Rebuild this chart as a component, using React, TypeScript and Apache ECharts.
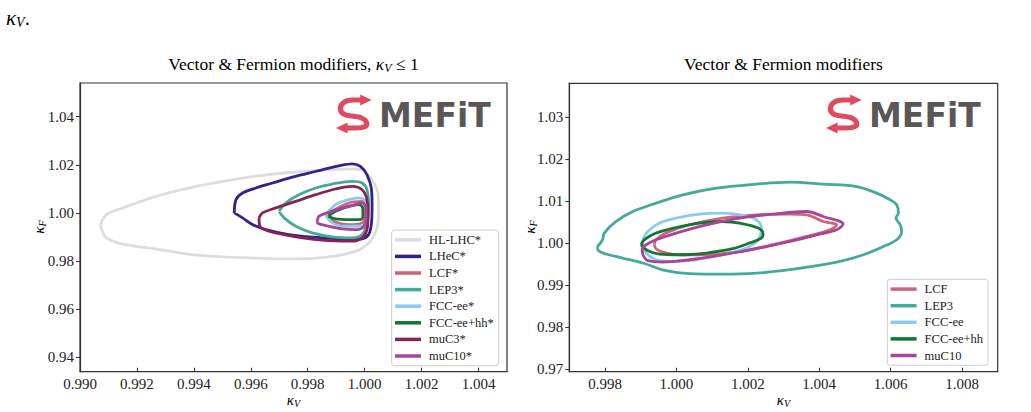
import React, { useEffect, useRef } from 'react';
import * as echarts from 'echarts';

// ---------- data (kappa_V, kappa_F) ----------
const leftNames = ['HL-LHC*', 'LHeC*', 'LCF*', 'LEP3*', 'FCC-ee*', 'FCC-ee+hh*', 'muC3*', 'muC10*'];
const rightNames = ['LCF', 'LEP3', 'FCC-ee', 'FCC-ee+hh', 'muC10'];

const hlLhcL = [
  [0.99072, 0.9952], [0.99093, 0.9993], [0.99151, 1.0021], [0.99268, 1.0069], [0.99385, 1.0104],
  [0.99501, 1.0131], [0.99618, 1.0153], [0.99734, 1.0168], [0.99851, 1.0177], [0.99956, 1.0183],
  [1.00003, 1.017], [1.00038, 1.0112], [1.00049, 1.0055], [1.00049, 0.9986], [1.00038, 0.9917],
  [1.00014, 0.9875], [0.99968, 0.984], [0.99851, 0.9814], [0.99734, 0.9809], [0.99618, 0.9812],
  [0.99501, 0.9817], [0.99385, 0.9828], [0.99268, 0.985], [0.99151, 0.987], [0.99093, 0.9896],
  [0.99076, 0.9931],
];
const lhecL = [
  [0.99542, 1.0], [0.99548, 1.00551], [0.99571, 1.00828], [0.99618, 1.01035], [0.99676, 1.01242],
  [0.99734, 1.01449], [0.99793, 1.01627], [0.99851, 1.01793], [0.99909, 1.01959], [0.99956, 1.02042],
  [0.99985, 1.0193], [1.00008, 1.01586], [1.00024, 1.00965], [1.00026, 1.00273], [1.00024, 0.99586],
  [1.00014, 0.99101], [0.99991, 0.98923], [0.99956, 0.98894], [0.99851, 0.98965], [0.99734, 0.99101],
  [0.99653, 0.99308], [0.99606, 0.99516], [0.99571, 0.99793],
];
const lcfL = [
  [0.99874, 1.0], [0.99944, 1.00414], [0.99991, 1.0048], [1.00003, 1.0], [0.99991, 0.99586],
  [0.99944, 0.99516], [0.99892, 0.99652],
];
const lep3L = [
  [0.99699, 1.00066], [0.99723, 1.00414], [0.99769, 1.00758], [0.99828, 1.01035], [0.99886, 1.01201],
  [0.99956, 1.01309], [0.99991, 1.01242], [1.00008, 1.00965], [1.00014, 1.00273], [1.00008, 0.99586],
  [0.99991, 0.99101], [0.99956, 0.98965], [0.99886, 0.99006], [0.99816, 0.99172], [0.99758, 0.99445],
  [0.99717, 0.99793],
];
const fccL = [
  [0.99863, 0.9993], [0.99898, 1.00344], [0.99944, 1.00551], [0.99979, 1.00621], [1.00003, 1.0048],
  [1.00008, 1.0], [1.00003, 0.99586], [0.99979, 0.99445], [0.99933, 0.99445], [0.99886, 0.99586],
];
const fccHhL = [
  [0.99872, 0.99859], [0.99898, 1.00066], [0.99944, 1.00273], [0.99979, 1.00344], [0.99993, 1.00207],
  [0.99994, 0.99859], [0.99985, 0.99723], [0.99944, 0.99723], [0.99898, 0.99752],
];
const muc3L = [
  [0.99629, 0.99793], [0.99641, 1.0], [0.99688, 1.00207], [0.99758, 1.0048], [0.99828, 1.00758],
  [0.99898, 1.00994], [0.99956, 1.01102], [0.99991, 1.00965], [1.00008, 1.00551], [1.00012, 0.99859],
  [1.00008, 0.99308], [0.99991, 0.98965], [0.99956, 0.98824], [0.99851, 0.98865], [0.99734, 0.9906],
  [0.99664, 0.99238], [0.99632, 0.99445],
];
const muc10L = [
  [0.99833, 0.99652], [0.99839, 0.99859], [0.99868, 1.0], [0.99921, 1.00207], [0.99968, 1.00344],
  [0.99991, 1.00414], [1.00005, 1.00207], [1.00005, 0.99793], [0.99997, 0.99445], [0.99973, 0.99308],
  [0.99921, 0.99337], [0.99863, 0.99474], [0.99837, 0.99557],
];

const lcfR = [
  [0.99938, 0.9996], [0.99943, 1.00078], [0.99971, 1.00238], [1.00037, 1.00435], [1.0013, 1.00594],
  [1.00224, 1.00672], [1.00318, 1.00689], [1.00365, 1.00672], [1.00411, 1.00513], [1.00449, 1.00435],
  [1.0043, 1.00316], [1.00365, 1.00157], [1.00271, 0.9996], [1.00177, 0.998], [1.00084, 0.99722],
  [1.00009, 0.99722], [0.99962, 0.99786], [0.99943, 0.99865],
];
const lep3R = [
  [0.99779, 0.99919], [0.99793, 1.00078], [0.99798, 1.00238], [0.99831, 1.00513], [0.99878, 1.0075],
  [0.99943, 1.0095], [1.00018, 1.01147], [1.00112, 1.01306], [1.00224, 1.01401], [1.00318, 1.01449],
  [1.00411, 1.01401], [1.00505, 1.01344], [1.00561, 1.01188], [1.00599, 1.01028], [1.00617, 1.0091],
  [1.00622, 1.00713], [1.00615, 1.00594], [1.00627, 1.00435], [1.00631, 1.00276], [1.00617, 1.00078],
  [1.0058, 0.99919], [1.00524, 0.99722], [1.00467, 0.9958], [1.00411, 0.99485], [1.00318, 0.99366],
  [1.00224, 0.99283], [1.0013, 0.99259], [1.00037, 0.99271], [0.99971, 0.99342], [0.99906, 0.99525],
  [0.99849, 0.99644], [0.99803, 0.99739], [0.99782, 0.99817],
];
const fccR = [
  [0.99906, 1.00078], [0.9992, 1.00276], [0.99953, 1.00475], [0.99999, 1.00594], [1.00065, 1.00689],
  [1.0013, 1.00713], [1.00187, 1.00656], [1.00224, 1.00553], [1.00238, 1.00356], [1.00229, 1.00078],
  [1.00196, 0.99881], [1.0013, 0.99722], [1.00056, 0.99603], [0.9999, 0.99563], [0.99943, 0.99603],
  [0.99915, 0.99763], [0.99906, 0.99919],
];
const fccHhR = [
  [0.99901, 0.9996], [0.9991, 1.00078], [0.99943, 1.00238], [0.99999, 1.0037], [1.00065, 1.00475],
  [1.0013, 1.00513], [1.00177, 1.00475], [1.00229, 1.00356], [1.00243, 1.00214], [1.00238, 1.00119],
  [1.00205, 1.0], [1.00158, 0.99865], [1.00084, 0.99763], [1.00009, 0.99722], [0.99953, 0.99739],
  [0.9992, 0.99817],
];
const muc10R = [
  [0.99906, 0.99722], [0.99904, 0.99841], [0.99915, 0.9996], [0.99943, 1.00078], [0.99999, 1.00238],
  [1.00084, 1.00435], [1.00177, 1.00594], [1.00271, 1.00689], [1.00365, 1.0075], [1.00411, 1.00632],
  [1.00467, 1.00451], [1.00449, 1.00316], [1.00393, 1.00197], [1.00318, 1.00038], [1.00224, 0.99865],
  [1.0013, 0.99722], [1.00037, 0.99603], [0.99962, 0.99549], [0.9992, 0.9958],
];

const leftContours = [hlLhcL, lhecL, lcfL, lep3L, fccL, fccHhL, muc3L, muc10L];
const rightContours = [lcfR, lep3R, fccR, fccHhR, muc10R];
const leftColors = ['#DDDDDD', '#332288', '#CC6677', '#44AA99', '#88CCEE', '#117733', '#882255', '#AA4499'];
const rightColors = ['#CC6677', '#44AA99', '#88CCEE', '#117733', '#AA4499'];

// ---------- styles ----------
const SERIF = "'Liberation Serif', 'DejaVu Serif', serif";
const AX = '#333333';
const TXT = '#222222';
const LOGO_RED = '#E14A5E';
const LOGO_GREY = '#5C5757';

echarts.graphic.registerShape(
  'mefitS',
  echarts.graphic.extendPath(
    'M 24 5 L 15 5 C 8 5 4 9 4 13.5 C 4 18 8 20.5 14 21 L 18 21.5 C 24 22 28 25.5 28 29 C 28 31.5 24 33 18 33 L 9 33',
    {}
  )
);

const close = (pts: number[][]) => [...pts, pts[0]];

function makeSeries(names: string[], contours: number[][][], colors: string[], idx: number) {
  return names.map((name, i) => ({
    type: 'line',
    name,
    xAxisIndex: idx,
    yAxisIndex: idx,
    data: close(contours[i]),
    showSymbol: false,
    symbol: 'none',
    smooth: 0.35,
    color: colors[i],
    lineStyle: { color: colors[i], width: 2.8 },
    silent: true,
    z: 2 + i * 0.01,
  }));
}

const axisLineStyle = { show: true, lineStyle: { color: AX, width: 1.2 } };
const labelBase = { fontFamily: SERIF, fontSize: 15, color: TXT };

function legendOf(names: string[], left: number, top: number) {
  return {
    data: names,
    orient: 'vertical',
    left,
    top,
    icon: 'rect',
    itemWidth: 26,
    itemHeight: 3.5,
    itemGap: 0,
    padding: [1.5, 5, 1.5, 3.3],
    backgroundColor: '#ffffff',
    borderColor: '#cccccc',
    borderWidth: 1,
    borderRadius: 3,
    selectedMode: false,
    textStyle: { fontFamily: SERIF, fontSize: 12.5, color: TXT, lineHeight: 16.6, padding: [0, 0, 0, 3] },
  };
}

function logo(x: number, y: number) {
  return {
    type: 'group',
    x,
    y,
    z: 50,
    children: [
      {
        type: 'group',
        scaleX: 1.1,
        scaleY: 1.0,
        children: [
          { type: 'mefitS', style: { fill: 'none', stroke: LOGO_RED, lineWidth: 4.8, lineCap: 'butt' } },
          { type: 'polygon', shape: { points: [[22, -0.5], [32.5, 5], [22, 10.5]] }, style: { fill: LOGO_RED } },
          { type: 'polygon', shape: { points: [[10.5, 27.5], [0, 33], [10.5, 38.5]] }, style: { fill: LOGO_RED } },
        ],
      },
      {
        type: 'text',
        x: 43,
        y: 20.5,
        style: {
          text: 'MEFiT',
          fontFamily: "'DejaVu Sans', sans-serif",
          fontWeight: 'bold',
          fontSize: 33,
          fill: LOGO_GREY,
          textAlign: 'left',
          textVerticalAlign: 'middle',
        },
      },
    ],
  };
}

const kRich = {
  t: { fontFamily: SERIF, fontSize: 17.5, color: TXT },
  k: { fontFamily: SERIF, fontStyle: 'italic', fontSize: 17.5, color: TXT },
  s: { fontFamily: SERIF, fontStyle: 'italic', fontSize: 12, color: TXT, padding: [7, 0, 0, 0] },
};
const capRich = {
  t: { fontFamily: SERIF, fontSize: 21, color: TXT },
  k: { fontFamily: SERIF, fontStyle: 'italic', fontSize: 21, color: TXT },
  s: { fontFamily: SERIF, fontStyle: 'italic', fontSize: 14, color: TXT, padding: [8, 0, 0, 0] },
};
const nameRich = {
  k: { fontFamily: SERIF, fontStyle: 'italic', fontSize: 15, color: TXT },
  s: { fontFamily: SERIF, fontStyle: 'italic', fontSize: 10, color: TXT, padding: [6, 0, 0, 0] },
};

const option = {
  animation: false,
  backgroundColor: '#ffffff',
  grid: [
    { left: 80, top: 83, width: 427, height: 288.7, show: true, borderColor: AX, borderWidth: 1.2, backgroundColor: 'transparent' },
    { left: 569.3, top: 83.3, width: 428.4, height: 288.4, show: true, borderColor: AX, borderWidth: 1.2, backgroundColor: 'transparent' },
  ],
  xAxis: [
    {
      type: 'value', gridIndex: 0, min: 0.99, max: 1.005, interval: 0.002,
      axisLine: axisLineStyle,
      axisTick: { show: true, inside: true, length: 4, lineStyle: { color: AX, width: 1 } },
      axisLabel: { ...labelBase, margin: 5, showMaxLabel: false, formatter: (v: number) => v.toFixed(3) },
      splitLine: { show: false },
    },
    {
      type: 'value', gridIndex: 1, min: 0.997, max: 1.009, splitNumber: 6,
      axisLine: axisLineStyle,
      axisTick: { show: true, inside: true, length: 4, lineStyle: { color: AX, width: 1 } },
      axisLabel: { ...labelBase, margin: 5, showMinLabel: false, showMaxLabel: false, formatter: (v: number) => v.toFixed(3) },
      splitLine: { show: false },
    },
  ],
  yAxis: [
    {
      type: 'value', gridIndex: 0, min: 0.934, max: 1.054, splitNumber: 6,
      axisLine: axisLineStyle,
      axisTick: { show: true, inside: false, length: 4, lineStyle: { color: AX, width: 1 } },
      axisLabel: { ...labelBase, margin: 6, showMinLabel: false, showMaxLabel: false, formatter: (v: number) => v.toFixed(2) },
      splitLine: { show: false },
    },
    {
      type: 'value', gridIndex: 1, min: 0.9694, max: 1.038, splitNumber: 7,
      axisLine: axisLineStyle,
      axisTick: { show: true, inside: false, length: 4, lineStyle: { color: AX, width: 1 } },
      axisLabel: { ...labelBase, margin: 6, showMinLabel: false, showMaxLabel: false, formatter: (v: number) => v.toFixed(2) },
      splitLine: { show: false },
    },
  ],
  legend: [legendOf(leftNames, 391.7, 230), legendOf(rightNames, 887.3, 279.3)],
  series: [
    ...makeSeries(leftNames, leftContours, leftColors, 0),
    ...makeSeries(rightNames, rightContours, rightColors, 1),
  ],
  graphic: [
    {
      type: 'text', x: 6, y: 18,
      style: { text: '{k|κ}{s|V}{t|.}', rich: capRich, textAlign: 'left', textVerticalAlign: 'middle' },
    },
    {
      type: 'text', x: 293.5, y: 64,
      style: {
        text: '{t|Vector & Fermion modifiers, }{k|κ}{s|V}{t| ≤ 1}',
        rich: kRich, textAlign: 'center', textVerticalAlign: 'middle',
      },
    },
    {
      type: 'text', x: 783.5, y: 64,
      style: { text: '{t|Vector & Fermion modifiers}', rich: kRich, textAlign: 'center', textVerticalAlign: 'middle' },
    },
    {
      type: 'text', x: 293.5, y: 400,
      style: { text: '{k|κ}{s|V}', rich: nameRich, textAlign: 'center', textVerticalAlign: 'middle' },
    },
    {
      type: 'text', x: 783.5, y: 400,
      style: { text: '{k|κ}{s|V}', rich: nameRich, textAlign: 'center', textVerticalAlign: 'middle' },
    },
    {
      type: 'text', x: 39, y: 227, rotation: Math.PI / 2,
      style: { text: '{k|κ}{s|F}', rich: nameRich, textAlign: 'center', textVerticalAlign: 'middle' },
    },
    {
      type: 'text', x: 530, y: 227, rotation: Math.PI / 2,
      style: { text: '{k|κ}{s|F}', rich: nameRich, textAlign: 'center', textVerticalAlign: 'middle' },
    },
    logo(336, 95),
    logo(826, 95),
  ],
};

export default function App() {
  const ref = useRef<HTMLDivElement>(null);
  useEffect(() => {
    if (!ref.current) return;
    const chart = echarts.init(ref.current, null, { renderer: 'svg' });
    chart.setOption(option as any);
    return () => chart.dispose();
  }, []);
  return (
    <div
      ref={ref}
      style={{ position: 'fixed', left: 0, top: 0, width: 1031, height: 412, background: '#ffffff' }}
    />
  );
}
